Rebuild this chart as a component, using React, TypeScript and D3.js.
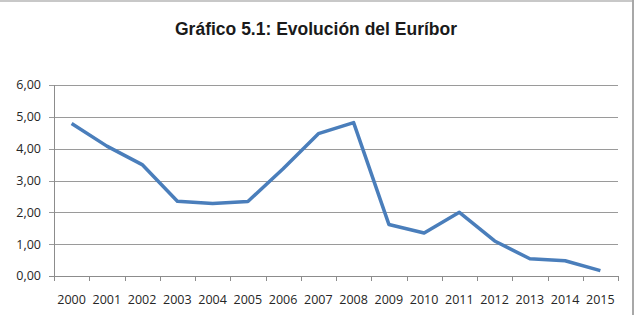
import React, { useEffect, useRef } from 'react';
import * as d3 from 'd3';

const years = ['2000', '2001', '2002', '2003', '2004', '2005', '2006', '2007', '2008', '2009', '2010', '2011', '2012', '2013', '2014', '2015'];
const euribor = [4.79, 4.08, 3.5, 2.35, 2.28, 2.34, 3.37, 4.47, 4.82, 1.62, 1.35, 2.0, 1.1, 0.54, 0.48, 0.17];
const yTicks = [0, 1, 2, 3, 4, 5, 6];
const title = 'Gráfico 5.1: Evolución del Euríbor';

export default function App() {
  const svgRef = useRef<SVGSVGElement | null>(null);
  const width = 636;
  const height = 315;

  useEffect(() => {
    const svg = d3.select(svgRef.current!);
    svg.selectAll('*').remove();
    const margin = { top: 85, right: 18, bottom: 39, left: 54 };

    const x = d3
      .scaleBand<string>()
      .domain(years)
      .range([margin.left, width - margin.right])
      .padding(0);
    const y = d3
      .scaleLinear()
      .domain([0, 6])
      .range([height - margin.bottom, margin.top]);

    // frame (only top and right edges visible in the source)
    svg.append('line').attr('x1', 0).attr('x2', 633).attr('y1', 1).attr('y2', 1)
      .attr('stroke', '#c8c8c8').attr('stroke-width', 2);
    svg.append('line').attr('x1', 633).attr('x2', 633).attr('y1', 0).attr('y2', height)
      .attr('stroke', '#a8a8a8').attr('stroke-width', 2);

    svg.append('text')
      .attr('x', 316).attr('y', 35)
      .attr('text-anchor', 'middle')
      .attr('font-family', '"Liberation Sans", Arial, sans-serif')
      .attr('font-weight', 'bold')
      .attr('font-size', 17.5)
      .attr('fill', '#1a1a1a')
      .text(title);

    // gridlines + y labels
    const yAxis = svg.append('g');
    yAxis.selectAll('line.grid')
      .data(yTicks)
      .join('line')
      .attr('class', 'grid')
      .attr('x1', margin.left - 5)
      .attr('x2', width - margin.right)
      .attr('y1', (d) => Math.round(y(d)) + 0.5)
      .attr('y2', (d) => Math.round(y(d)) + 0.5)
      .attr('stroke', (d) => (d === 0 ? '#8c8c8c' : '#9a9a9a'))
      .attr('stroke-width', 1);
    yAxis.selectAll('text')
      .data(yTicks)
      .join('text')
      .attr('x', 41)
      .attr('y', (d) => y(d))
      .attr('dy', '0.35em')
      .attr('text-anchor', 'end')
      .attr('font-family', '"Open Sans", sans-serif')
      .attr('font-size', 12.5)
      .attr('fill', '#262626')
      .text((d) => d.toFixed(2).replace('.', ','));

    // y axis line
    svg.append('line')
      .attr('x1', margin.left + 0.5).attr('x2', margin.left + 0.5)
      .attr('y1', y(6)).attr('y2', y(0) + 5)
      .attr('stroke', '#8c8c8c');

    // x ticks at band edges
    const edges = years.map((d) => x(d) || 0).concat([width - margin.right]);
    svg.append('g').selectAll('line')
      .data(edges)
      .join('line')
      .attr('x1', (d) => Math.round(d) + 0.5)
      .attr('x2', (d) => Math.round(d) + 0.5)
      .attr('y1', y(0))
      .attr('y2', y(0) + 5)
      .attr('stroke', '#8c8c8c');

    svg.append('g').selectAll('text')
      .data(years)
      .join('text')
      .attr('x', (d) => (x(d) || 0) + x.bandwidth() / 2)
      .attr('y', 300)
      .attr('dy', '0.35em')
      .attr('text-anchor', 'middle')
      .attr('font-family', '"Open Sans", sans-serif')
      .attr('font-size', 12.5)
      .attr('fill', '#262626')
      .text((d) => d);

    const line = d3
      .line<number>()
      .x((_, i) => (x(years[i]) || 0) + x.bandwidth() / 2)
      .y((d) => y(d));

    svg.append('path')
      .datum(euribor)
      .attr('d', line)
      .attr('fill', 'none')
      .attr('stroke', '#4a7ebb')
      .attr('stroke-width', 3.5)
      .attr('stroke-linejoin', 'round');
  }, []);

  return (
    <svg
      ref={svgRef}
      width={width}
      height={height}
      style={{ position: 'absolute', left: 0, top: 0, background: '#fff' }}
    />
  );
}
